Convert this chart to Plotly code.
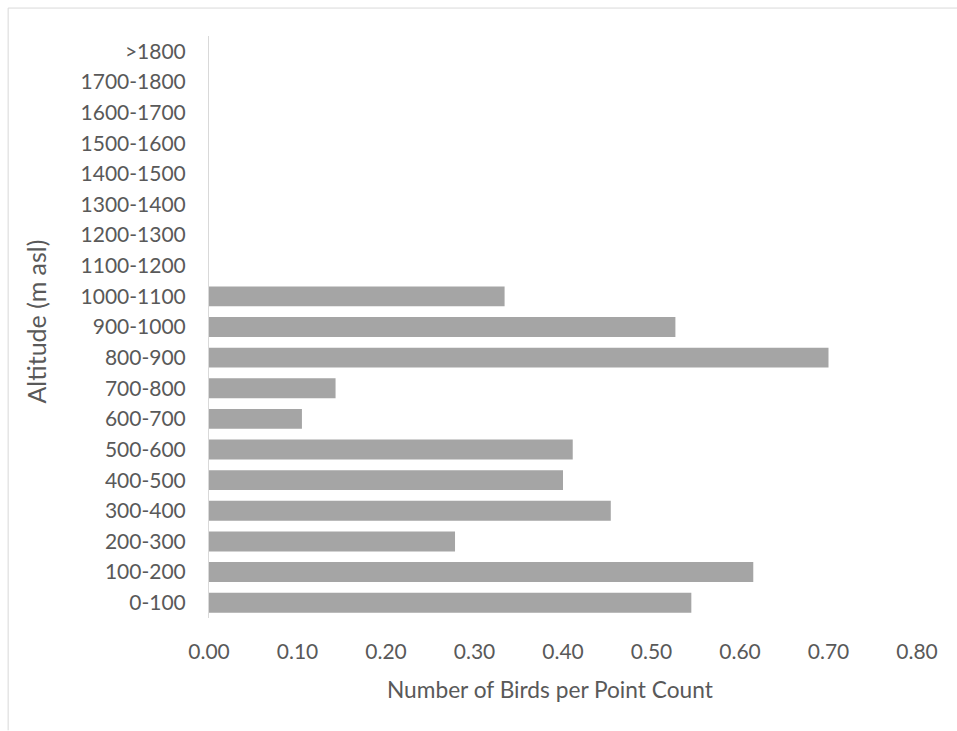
import plotly.graph_objects as go

categories = ["0-100", "100-200", "200-300", "300-400", "400-500", "500-600",
              "600-700", "700-800", "800-900", "900-1000", "1000-1100",
              "1100-1200", "1200-1300", "1300-1400", "1400-1500", "1500-1600",
              "1600-1700", "1700-1800", ">1800"]
birds_per_count = [0.545, 0.615, 0.278, 0.454, 0.400, 0.411,
                   0.105, 0.143, 0.700, 0.527, 0.334,
                   0, 0, 0, 0, 0, 0, 0, 0]
x_tickvals = [0.0, 0.1, 0.2, 0.3, 0.4, 0.5, 0.6, 0.7, 0.8]
x_ticktext = ["0.00", "0.10", "0.20", "0.30", "0.40", "0.50", "0.60", "0.70", "0.80"]

W, H = 957, 731
L, R, T, B = 208.5, 40, 35.5, 112.5
pw, ph = W - L - R, H - T - B

def px(x):
    return (x - L) / pw

def py(y):
    return (H - B - y) / ph

FONT = "Lato"
TXT = "#595959"

fig = go.Figure(go.Bar(
    x=birds_per_count, y=categories, orientation="h",
    marker=dict(color="#A5A5A5", line=dict(width=0)),
    hoverinfo="x+y",
))

fig.update_layout(
    width=W, height=H,
    margin=dict(l=L, r=R, t=T, b=B, pad=0),
    paper_bgcolor="white", plot_bgcolor="white",
    bargap=0.35,
    showlegend=False,
    font=dict(family=FONT, color=TXT, size=21),
    xaxis=dict(range=[0, 0.8], tickvals=x_tickvals, ticktext=x_ticktext,
               showgrid=False, zeroline=False, showline=False, ticks="",
               ticklabelstandoff=19, tickfont=dict(size=21, color=TXT, family=FONT)),
    yaxis=dict(type="category", categoryorder="array", categoryarray=categories,
               range=[-0.5, len(categories) - 0.5],
               showgrid=False, zeroline=False, showline=True, linecolor="#D9D9D9",
               linewidth=1, ticks="", ticklabelstandoff=18,
               tickfont=dict(size=21, color=TXT, family=FONT)),
    annotations=[
        dict(text="Number of Birds per Point Count", xref="paper", yref="paper",
             x=px(550), y=0, xanchor="center", yanchor="middle", yshift=-(690 - (H - B)),
             showarrow=False, font=dict(size=22.7, color=TXT, family=FONT)),
        dict(text="Altitude (m asl)", xref="paper", yref="paper",
             x=0, xshift=36 - L, y=py(322), xanchor="center", yanchor="middle",
             textangle=-90, showarrow=False, font=dict(size=25, color=TXT, family=FONT)),
    ],
    shapes=[
        dict(type="line", xref="paper", yref="paper", x0=px(7.5), x1=px(W), y0=py(7.5), y1=py(7.5),
             line=dict(color="#D9D9D9", width=1)),
        dict(type="line", xref="paper", yref="paper", x0=px(7.5), x1=px(7.5), y0=py(7.5), y1=py(H),
             line=dict(color="#D9D9D9", width=1)),
    ],
)

fig.write_html("out.html", config={"displayModeBar": False},
               post_script="document.body.style.margin='0';document.body.style.overflow='hidden';")
